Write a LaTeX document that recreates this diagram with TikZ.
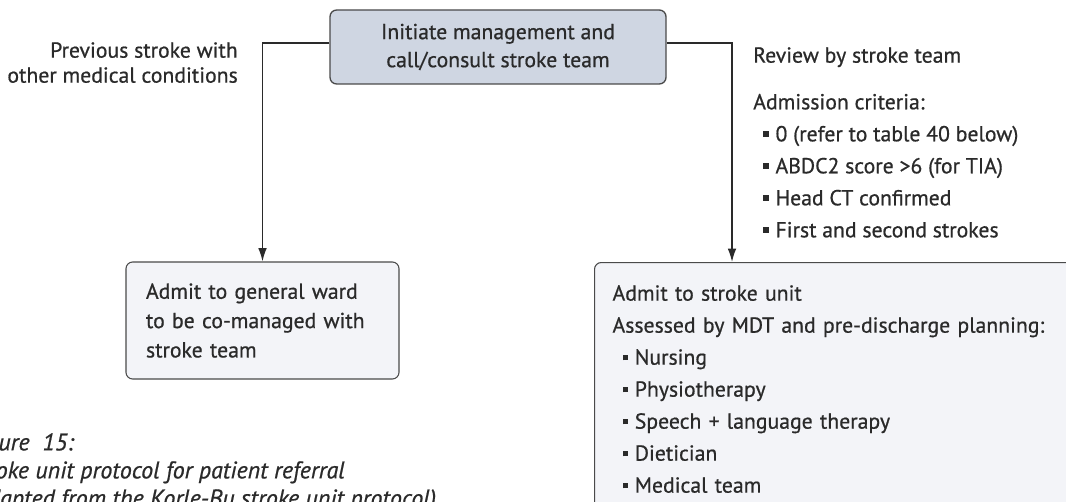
\documentclass[tikz,border=0pt]{standalone}
\usepackage{fontspec}
\setmainfont{PT Sans}[FakeBold=0.7]
\usepackage{tikz}
\usetikzlibrary{shapes.geometric, arrows.meta}
\definecolor{boxline}{HTML}{4A4A4A}
\definecolor{initfill}{HTML}{CFD6E2}
\definecolor{wardfill}{HTML}{F3F4F8}
\definecolor{ink}{HTML}{2A2A2A}
\newcommand{\sqb}{\hspace*{7.5pt}\rule[0.2em]{4.2pt}{4.2pt}\hspace{5pt}}
\tikzstyle{initbox} = [rectangle, rounded corners=5pt, minimum width=252pt, minimum height=55.5pt, align=center, draw=boxline, line width=1pt, fill=initfill, text=ink, font=\fontsize{16.3}{21}\selectfont]
\tikzstyle{wardbox} = [rectangle, rounded corners=5pt, minimum width=204.75pt, minimum height=87.75pt, text width=174.75pt, align=left, draw=boxline, line width=0.8pt, fill=wardfill, text=ink, font=\fontsize{16.3}{22}\selectfont]
\tikzstyle{unitbox} = [rectangle, rounded corners=5pt, anchor=north west, text width=380pt, text depth=150pt, align=left, inner xsep=13.5pt, inner ysep=17pt, draw=boxline, line width=0.8pt, fill=wardfill, text=ink, font=\fontsize{16.3}{24}\selectfont]
\tikzstyle{note} = [inner sep=0pt, text=ink, font=\fontsize{16.3}{24}\selectfont]
\tikzstyle{arrow} = [line width=1.1pt, draw=ink, -{Latex[length=10pt,width=6.5pt]}]

\begin{document}
\begin{tikzpicture}[x=0.75pt, y=-0.75pt]
\useasboundingbox (0,0) rectangle (1066,502);
\clip (0,0) rectangle (1066,502);

\node (init) [initbox] at (498,47) {Initiate management and\\call/consult stroke team};

\node (prev) [note, anchor=north east, align=right, font=\fontsize{16.3}{18.75}\selectfont] at (238,42) {Previous stroke with\\other medical conditions};
\node (crit) [note, anchor=north west, align=left] at (753,47) {Review by stroke team\\[11pt]
Admission criteria:\\
\sqb 0 (refer to table 40 below)\\
\sqb ABDC2 score >6 (for TIA)\\
\sqb Head CT confirmed\\
\sqb First and second strokes};

\node (ward) [wardbox] at (262.5,320.5) {Admit to general ward\\to be co-managed with\\stroke team};
\node (unit) [unitbox] at (594,262) {Admit to stroke unit\\
Assessed by MDT and pre-discharge planning:\\
\sqb Nursing\\
\sqb Physiotherapy\\
\sqb Speech + language therapy\\
\sqb Dietician\\
\sqb Medical team};

\draw [arrow] ([yshift=3pt]init.west) -| (ward.north);
\draw [arrow] ([yshift=3pt]init.east) -| ([xshift=103.5pt]unit.north west);

\node (caption) [note, anchor=north west, align=left, font=\fontsize{18}{21}\selectfont\itshape] at (-32,433) {Figure\ \ 15:\\Stroke unit protocol for patient referral\\(Adapted from the Korle-Bu stroke unit protocol)};
\end{tikzpicture}
\end{document}
